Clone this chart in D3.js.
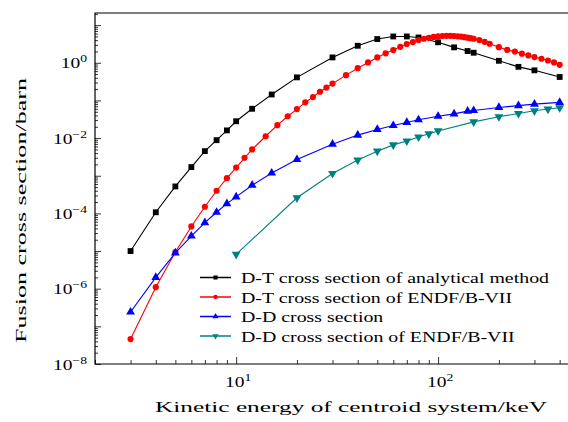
<!DOCTYPE html>
<html>
<head>
<meta charset="utf-8">
<script src="https://cdn.jsdelivr.net/npm/d3@7"></script>
<style>
  body { margin: 0; background: #fff; }
  svg { display: block; }
  svg text { font-family: "Liberation Serif", "DejaVu Serif", serif; fill: #000; }
</style>
</head>
<body>
<svg width="568" height="422"></svg>
<script>
// D-T analytical method
const dtX = [3, 4, 5, 6, 7, 8, 9, 10, 12, 15, 20, 30, 40, 50, 60, 70, 80, 100, 120, 140, 150, 200, 250, 300, 400];
const dtY = [1e-5, 1.07e-4, 5.2e-4, 1.7e-3, 4.5e-3, 8.8e-3, 1.6e-2, 2.8e-2, 0.06, 0.144, 0.41, 1.39, 2.83, 4.27, 5.0, 5.0, 4.7, 3.5, 2.57, 2.05, 1.85, 1.13, 0.78, 0.63, 0.42];

// D-T ENDF/B-VII
const dtEndfX = [3, 4, 5, 6, 7, 8, 9, 10, 11, 12, 14, 16, 18, 20, 22, 24, 26, 28, 30, 35, 40, 45, 50, 55, 60, 65, 70, 75, 80, 85, 90, 95, 100, 105, 110, 115, 120, 125, 130, 135, 140, 145, 150, 160, 170, 180, 200, 220, 240, 260, 280, 300, 325, 350, 375, 400];
const dtEndfY = [4.6e-8, 1.1e-6, 9.4e-6, 4.5e-5, 1.5e-4, 4e-4, 8.6e-4, 1.65e-3, 3e-3, 5e-3, 0.0112, 0.022, 0.038, 0.059, 0.089, 0.123, 0.17, 0.22, 0.28, 0.47, 0.72, 1.02, 1.39, 1.78, 2.18, 2.66, 3.15, 3.55, 4.0, 4.35, 4.6, 4.85, 5.05, 5.15, 5.2, 5.2, 5.15, 5.05, 4.95, 4.8, 4.65, 4.5, 4.35, 4.0, 3.6, 3.2, 2.6, 2.2, 1.98, 1.75, 1.57, 1.42, 1.28, 1.15, 1.02, 0.88];

// D-D
const ddX = [3, 4, 5, 6, 7, 8, 9, 10, 12, 15, 20, 30, 40, 50, 60, 70, 80, 100, 120, 140, 150, 200, 250, 300, 400];
const ddY = [2.4e-7, 2e-6, 8.9e-6, 2.5e-5, 5.7e-5, 1.07e-4, 1.82e-4, 2.75e-4, 5.6e-4, 1.18e-3, 2.7e-3, 6.9e-3, 0.012, 0.017, 0.0216, 0.026, 0.0306, 0.038, 0.044, 0.052, 0.054, 0.065, 0.073, 0.08, 0.089];

// D-D ENDF/B-VII
const ddEndfX = [10, 20, 30, 40, 50, 60, 70, 80, 90, 100, 150, 200, 250, 300, 350, 400];
const ddEndfY = [8.2e-6, 2.6e-4, 1.15e-3, 2.6e-3, 4.5e-3, 6.6e-3, 8.4e-3, 0.0107, 0.013, 0.0155, 0.027, 0.037, 0.045, 0.053, 0.059, 0.064];

const seriesNames = [
  "D-T cross section of analytical method",
  "D-T cross section of ENDF/B-VII",
  "D-D cross section",
  "D-D cross section of ENDF/B-VII"
];

const xMajor = [1, 2];      // exponents labelled on x
const yMajor = [-8, -6, -4, -2, 0];  // exponents labelled on y

const series = [
  { name: seriesNames[0], xs: dtX, ys: dtY, color: "#000000", marker: "square" },
  { name: seriesNames[1], xs: dtEndfX, ys: dtEndfY, color: "#ff0000", marker: "circle" },
  { name: seriesNames[2], xs: ddX, ys: ddY, color: "#0000ff", marker: "up" },
  { name: seriesNames[3], xs: ddEndfX, ys: ddEndfY, color: "#008080", marker: "down" }
];

const svg = d3.select("svg");
const mLeft = 95, mTop = 13, mBottom = 364, mRight = 570;
const stretch = 1.3; // Times is narrower than the reference's roman face

const x = d3.scaleLog().domain([2, 450]).range([mLeft, mRight]);
const y = d3.scaleLog().domain([1e-8, 21]).range([mBottom, mTop]);

// minor / major ticks
const xMinor = [];
for (let d = 0; d <= 2; d++) {
  for (let k = 1; k <= 9; k++) {
    const v = k * Math.pow(10, d);
    if (v >= 2 && v <= 450) xMinor.push(v);
  }
}
const yMinor = [];
for (let d = -8; d <= 1; d++) {
  for (let k = 1; k <= 9; k++) {
    const v = k * Math.pow(10, d);
    if (v >= 1e-8 && v <= 21) yMinor.push(v);
  }
}

const g = svg.append("g");

// axes with inward ticks
g.append("g")
  .attr("transform", `translate(0,${mBottom})`)
  .call(d3.axisBottom(x).tickValues(xMinor.filter(v => !xMajor.map(e => Math.pow(10, e)).includes(v)))
    .tickSize(-4).tickFormat(""))
  .call(a => a.select(".domain").remove());
g.append("g")
  .attr("transform", `translate(0,${mBottom})`)
  .call(d3.axisBottom(x).tickValues(xMajor.map(e => Math.pow(10, e))).tickSize(-7).tickFormat(""))
  .call(a => a.select(".domain").remove());

const yDecades = d3.range(-8, 2).map(e => Math.pow(10, e));
g.append("g")
  .attr("transform", `translate(${mLeft},0)`)
  .call(d3.axisLeft(y).tickValues(yMinor.filter(v => !yDecades.some(dv => Math.abs(dv - v) / dv < 1e-9)))
    .tickSize(-3).tickFormat(""))
  .call(a => a.select(".domain").remove());
g.append("g")
  .attr("transform", `translate(${mLeft},0)`)
  .call(d3.axisLeft(y).tickValues(yDecades).tickSize(-6).tickFormat(""))
  .call(a => a.select(".domain").remove());

g.selectAll(".tick line").attr("stroke", "#000").attr("stroke-width", 0.8);

// frame
g.append("path")
  .attr("d", `M${mRight},${mTop}H${mLeft}V${mBottom}H${mRight}`)
  .attr("fill", "none").attr("stroke", "#000").attr("stroke-width", 1.2);

// widen a text element horizontally
function widen(sel, target) {
  const w = sel.node().getComputedTextLength();
  sel.attr("textLength", (target || w * stretch).toFixed(1))
    .attr("lengthAdjust", "spacingAndGlyphs");
}

// tick labels
xMajor.forEach(e => {
  const t = g.append("text")
    .attr("x", x(Math.pow(10, e)) + 2)
    .attr("y", mBottom + 23)
    .attr("text-anchor", "middle")
    .attr("font-size", 15);
  t.append("tspan").text("10");
  t.append("tspan").attr("dy", -6).attr("font-size", 10.5).text(e);
  widen(t);
});
yMajor.forEach(e => {
  const t = g.append("text")
    .attr("x", mLeft - 8)
    .attr("y", y(Math.pow(10, e)) + 5.5)
    .attr("text-anchor", "end")
    .attr("font-size", 15);
  t.append("tspan").text("10");
  t.append("tspan").attr("dy", -6).attr("font-size", 10.5).text(e < 0 ? "\u2212" + (-e) : e);
  widen(t);
});

// axis titles
const xTitle = g.append("text")
  .attr("x", 351).attr("y", 412)
  .attr("text-anchor", "middle").attr("font-size", 15.5)
  .text("Kinetic energy of centroid system/keV");
widen(xTitle, 392);
const yTitle = g.append("text")
  .attr("transform", `translate(26,${(78 + 343) / 2}) rotate(-90)`)
  .attr("text-anchor", "middle").attr("font-size", 15.5)
  .text("Fusion cross section/barn");
widen(yTitle, 265);

// markers
const symbols = {
  square: d3.symbol().type(d3.symbolSquare).size(34),
  circle: d3.symbol().type(d3.symbolCircle).size(30),
  up: d3.symbol().type(d3.symbolTriangle).size(34),
  down: d3.symbol().type(d3.symbolTriangle).size(34)
};
function drawMarker(sel, s, px, py, scale) {
  sel.append("path")
    .attr("d", symbols[s.marker]())
    .attr("transform", `translate(${px},${py})` + (s.marker === "down" ? " rotate(180)" : "") + (scale ? ` scale(${scale})` : ""))
    .attr("fill", s.color);
}

const line = d3.line().x(d => x(d[0])).y(d => y(d[1]));
const plot = g.append("g");
series.forEach(s => {
  const pts = s.xs.map((v, i) => [v, s.ys[i]]);
  plot.append("path").datum(pts)
    .attr("d", line)
    .attr("fill", "none").attr("stroke", s.color).attr("stroke-width", 1.1);
  pts.forEach(p => drawMarker(plot, s, x(p[0]), y(p[1])));
});

// legend
const legend = g.append("g");
let legendRatio = stretch;
series.forEach((s, i) => {
  const ly = 277.5 + i * 19.5;
  legend.append("line")
    .attr("x1", 200).attr("x2", 231).attr("y1", ly).attr("y2", ly)
    .attr("stroke", s.color).attr("stroke-width", 1.5);
  drawMarker(legend, s, 215.5, ly, 0.7);
  const t = legend.append("text")
    .attr("x", 241).attr("y", ly + 5.5)
    .attr("font-size", 15)
    .text(s.name);
  const w = t.node().getComputedTextLength();
  if (i === 0) legendRatio = 308 / w;
  widen(t, w * legendRatio);
});
</script>
</body>
</html>
